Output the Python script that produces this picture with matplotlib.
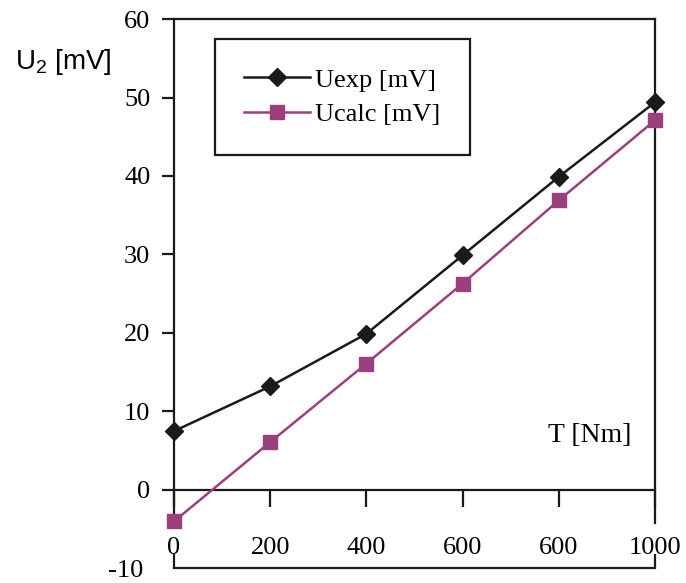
import matplotlib
matplotlib.use("Agg")
from matplotlib import pyplot as plt
import numpy as np

plt.rcParams['font.family'] = ['Liberation Serif', 'DejaVu Serif']
plt.rcParams['mathtext.fontset'] = 'custom'
plt.rcParams['mathtext.rm'] = 'Liberation Sans'

# data
torque = [0, 200, 400, 600, 800, 1000]
u_exp = [7.5, 13.2, 19.9, 29.9, 39.9, 49.4]
u_calc = [-4.0, 6.1, 16.1, 26.3, 36.9, 47.1]
x_ticklabels = ['0', '200', '400', '600', '600', '1000']   # sic, as in the source
y_ticks = [0, 10, 20, 30, 40, 50, 60]

purple = '#9c3f7e'
ink = '#1a1a1a'

fig = plt.figure(figsize=(6.86, 5.83), dpi=100)
ax = fig.add_axes([0.2536, 0.0249, 0.7012, 0.9425])
ax.set_xlim(0, 1000)
ax.set_ylim(-10, 60)

ax.plot(torque, u_exp, color=ink, lw=1.8, marker='D', ms=9.5, mfc=ink, mec=ink,
        label='Uexp [mV]', clip_on=False, zorder=4)
ax.plot(torque, u_calc, color=purple, lw=1.8, marker='s', ms=10, mfc=purple, mec=purple,
        label='Ucalc [mV]', clip_on=False, zorder=3)

# frame
for s in ['left', 'right', 'top', 'bottom']:
    ax.spines[s].set_linewidth(1.6)
    ax.spines[s].set_color(ink)
ax.spines['left'].set_bounds(-4.2, 60)
ax.spines['right'].set_bounds(-4.2, 60)

ax.set_yticks(y_ticks)
ax.set_yticklabels([str(v) for v in y_ticks])
ax.tick_params(axis='y', direction='out', length=9, width=1.6, pad=8, labelsize=19, color=ink)
ax.annotate('-10', xy=(0, -10), xytext=(-22, -1.5), textcoords='offset points',
            ha='right', va='center', fontsize=19, annotation_clip=False)

# bracket at the bottom: small inward ticks at both ends, no labels
ax.set_xticks([0, 1000])
ax.set_xticklabels(['', ''])
ax.tick_params(axis='x', direction='in', length=10, width=1.6, color=ink)

# x axis line through zero with the tick labels under it
zero_ax = ax.secondary_xaxis(10 / 70)
zero_ax.spines['bottom'].set_linewidth(1.6)
zero_ax.spines['bottom'].set_color(ink)
zero_ax.set_xticks(torque)
zero_ax.set_xticklabels(x_ticklabels)
zero_ax.tick_params(axis='x', direction='out', length=12, width=1.6, pad=22, labelsize=19, color=ink)

ax.text(950, 7.0, 'T [Nm]', fontsize=20, ha='right', va='center')
fig.text(15 / 686, 1 - 62 / 583, r'U$_{\mathrm{2}}$ [mV]', fontsize=20,
         family='Liberation Sans', ha='left', va='center')

leg = ax.legend(loc='upper left', bbox_to_anchor=(215 / 686, 1 - 39 / 583),
                bbox_transform=fig.transFigure, fontsize=19, frameon=True, fancybox=False,
                framealpha=1, handlelength=2.5, handletextpad=0.2, borderpad=1.1,
                labelspacing=0.42, borderaxespad=0)
leg.get_frame().set_edgecolor(ink)
leg.get_frame().set_linewidth(1.6)

fig.savefig('out.png', dpi=100)
